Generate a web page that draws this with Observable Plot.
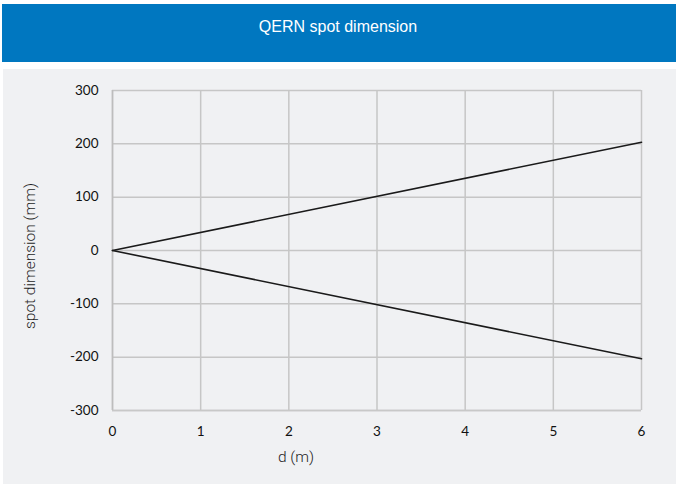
<!DOCTYPE html>
<html>
<head>
<meta charset="utf-8">
<script src="https://cdn.jsdelivr.net/npm/d3@7"></script>
<script src="https://cdn.jsdelivr.net/npm/@observablehq/plot@0.6"></script>
<style>
  html, body { margin: 0; padding: 0; background: #ffffff; width: 676px; height: 484px; overflow: hidden; }
  #header { position: absolute; left: 2px; top: 4px; width: 674px; height: 58px; background: #0077c0; }
  #title { position: absolute; left: 0; width: 676px; top: 17px; text-align: center; color: #ffffff;
           font-family: "Liberation Sans", Roboto, sans-serif; font-size: 16px; line-height: 20px; }
  #panel { position: absolute; left: 3px; top: 69px; width: 673px; height: 415px; background: #f0f1f3; }
  #chart { position: absolute; left: 0; top: 69px; }
  #ylabel { position: absolute; left: 30px; top: 256px; transform: translate(-50%, -50%) rotate(-90deg);
            white-space: nowrap; font-family: Roboto, "Liberation Sans", sans-serif; font-weight: 300;
            font-size: 15.5px; color: #1e1e1e; }
  #xlabel { position: absolute; left: 296px; top: 457px; transform: translate(-50%, -50%);
            white-space: nowrap; font-family: Roboto, "Liberation Sans", sans-serif; font-weight: 300;
            font-size: 15.5px; color: #1e1e1e; }
</style>
</head>
<body>
<div id="header"></div>
<div id="title">QERN spot dimension</div>
<div id="panel"></div>
<div id="chart"></div>
<div id="ylabel">spot dimension (mm)</div>
<div id="xlabel">d (m)</div>
<script>
const distance = [0, 6];
const upperEdge = [0, 203];
const lowerEdge = [0, -203];
const xTicks = [0, 1, 2, 3, 4, 5, 6];
const yTicks = [-300, -200, -100, 0, 100, 200, 300];

const rows = [];
distance.forEach((d, i) => rows.push({d, v: upperEdge[i], s: "upper"}));
distance.forEach((d, i) => rows.push({d, v: lowerEdge[i], s: "lower"}));

const chart = Plot.plot({
  width: 676,
  height: 415,
  marginLeft: 112,
  marginRight: 35,
  marginTop: 21,
  marginBottom: 74,
  style: {background: "transparent", fontFamily: "Lato, 'Open Sans', sans-serif", fontSize: "13.5px", color: "#111"},
  x: {domain: [0, 6]},
  y: {domain: [-300, 300]},
  marks: [
    Plot.gridX(xTicks, {stroke: "#c6c6c6", strokeOpacity: 1, strokeWidth: 1.5}),
    Plot.gridY(yTicks, {stroke: "#c6c6c6", strokeOpacity: 1, strokeWidth: 1.5}),
    Plot.ruleX([0], {stroke: "#bdbdbd", strokeWidth: 1.5}),
    Plot.ruleY([-300], {stroke: "#c8c8c8", strokeWidth: 1.5}),
    Plot.axisX(xTicks, {tickSize: 0, tickPadding: 16, label: null, fill: "#111", tickFormat: d => String(d)}),
    Plot.axisY(yTicks, {tickSize: 0, tickPadding: 14, label: null, fill: "#111", tickFormat: d => String(d)}),
    Plot.line(rows, {x: "d", y: "v", z: "s", stroke: "#1a1a1a", strokeWidth: 1.6})
  ]
});
document.getElementById("chart").appendChild(chart);
</script>
</body>
</html>
